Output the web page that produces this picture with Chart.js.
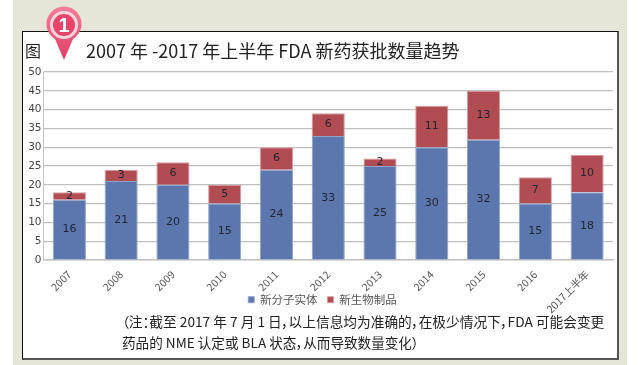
<!DOCTYPE html>
<html>
<head>
<meta charset="utf-8">
<script src="https://cdn.jsdelivr.net/npm/chart.js@4/dist/chart.umd.min.js"></script>
<style>
html, body { margin: 0; padding: 0; background: #fff; }
#page { position: relative; width: 640px; height: 365px; overflow: hidden; font-family: "Noto Sans CJK SC", sans-serif; color: #222; }
#bg { position: absolute; left: 13px; top: 0; width: 614px; height: 365px; background: #e5e6d7; }
#frame { position: absolute; left: 22px; top: 31px; width: 594px; height: 326px; background: #fff; border: 1px solid #111; border-right: 2px solid #555; border-bottom: 2px solid #555; }
canvas { position: absolute; left: 0; top: 0; }
.txt { position: absolute; white-space: nowrap; font-feature-settings: "palt"; }
#pin { position: absolute; left: 44.5px; top: 5px; }
</style>
</head>
<body>
<div id="page">
  <div id="bg"></div>
  <div id="frame"></div>
  <canvas id="barChart" width="640" height="365"></canvas>
  <div class="txt" style="left:25px;top:38px;font-size:16px;line-height:24px">图</div>
  <div class="txt" style="left:86px;top:37px;font-size:18px;line-height:26px">2007 年 -2017 年上半年 FDA 新药获批数量趋势</div>
  <div class="txt" style="left:122px;top:311px;font-size:13.7px;line-height:21px">（注：截至 2017 年 7 月 1 日，以上信息均为准确的，在极少情况下，FDA 可能会变更</div>
  <div class="txt" style="left:122px;top:332px;font-size:13.6px;line-height:21px">药品的 NME 认定或 BLA 状态，从而导致数量变化）</div>
  <svg id="pin" width="38" height="58" viewBox="0 0 38 58">
    <defs>
      <linearGradient id="g" x1="0" y1="0" x2="0" y2="1">
        <stop offset="0" stop-color="#f27f9a"/>
        <stop offset="1" stop-color="#e23c62"/>
      </linearGradient>
    </defs>
    <path d="M19 55 L10 34 A17.5 17.5 0 1 1 28 34 Z" fill="url(#g)"/>
    <circle cx="19" cy="20" r="12.5" fill="#e8446a" stroke="#fbd5de" stroke-width="3"/>
    <text x="19" y="27" text-anchor="middle" font-family="Liberation Sans" font-weight="bold" font-size="20" fill="#fff">1</text>
  </svg>
</div>
<script>
const categories = ['2007', '2008', '2009', '2010', '2011', '2012', '2013', '2014', '2015', '2016', '2017上半年'];
const nmeValues = [16, 21, 20, 15, 24, 33, 25, 30, 32, 15, 18];
const blaValues = [2, 3, 6, 5, 6, 6, 2, 11, 13, 7, 10];
const yTicks = [0, 5, 10, 15, 20, 25, 30, 35, 40, 45, 50];

const labelFont = '11px "DejaVu Sans", sans-serif';

// no datalabels plugin here, so the numbers in the bars are drawn by hand
const barLabels = {
    id: 'barLabels',
    afterDatasetsDraw(chart) {
        const ctx = chart.ctx;
        ctx.save();
        ctx.font = labelFont;
        ctx.fillStyle = '#1f2430';
        ctx.textAlign = 'center';
        ctx.textBaseline = 'middle';
        chart.data.datasets.forEach((ds, i) => {
            chart.getDatasetMeta(i).data.forEach((bar, j) => {
                ctx.fillText(ds.data[j], bar.x, (bar.y + bar.base) / 2);
            });
        });
        ctx.restore();
    }
};

// the long rotated label runs past the legend, so the legend sits over the x axis box
const moveLegend = {
    id: 'moveLegend',
    afterLayout(chart) {
        const legend = chart.legend;
        legend.top = 284;
        legend.left += 16;
        legend.right += 16;
    }
};

new Chart(document.getElementById('barChart').getContext('2d'), {
    type: 'bar',
    data: {
        labels: categories,
        datasets: [{
            label: '新分子实体',
            data: nmeValues,
            backgroundColor: '#5b77ae',
            borderColor: '#8ea3cb',
            borderWidth: 1
        }, {
            label: '新生物制品',
            data: blaValues,
            backgroundColor: '#b04c52',
            borderColor: '#d99a9d',
            borderWidth: 1
        }]
    },
    options: {
        responsive: false,
        animation: false,
        datasets: { bar: { categoryPercentage: 1, barPercentage: 0.64 } },
        layout: { padding: { top: 72, right: 27, bottom: 13.5, left: 0 } },
        plugins: {
            tooltip: { enabled: false },
            legend: {
                position: 'bottom',
                labels: {
                    boxWidth: 6,
                    boxHeight: 6,
                    padding: 10,
                    color: '#555555',
                    font: { family: '"Noto Sans CJK SC"', size: 11.5 }
                }
            }
        },
        scales: {
            x: {
                stacked: true,
                afterFit(axis) { axis.height = 60; },
                grid: { display: false },
                border: { color: '#c4c4c4', width: 1.5 },
                ticks: {
                    color: '#555555',
                    minRotation: 45,
                    maxRotation: 45,
                    padding: 0,
                    autoSkip: false,
                    font: { family: '"Noto Sans CJK SC", "DejaVu Sans"', size: 10.5 }
                }
            },
            y: {
                stacked: true,
                min: 0,
                max: 50,
                afterFit(axis) { axis.width = 43.5; },
                afterBuildTicks(axis) { axis.ticks = yTicks.map(v => ({ value: v })); },
                grid: { color: '#c0c0c0', lineWidth: 1.2, drawTicks: false },
                border: { color: '#c4c4c4' },
                ticks: {
                    color: '#444444',
                    padding: 2,
                    font: { family: '"DejaVu Sans"', size: 10.5 }
                }
            }
        }
    },
    plugins: [barLabels, moveLegend]
});
</script>
</body>
</html>
